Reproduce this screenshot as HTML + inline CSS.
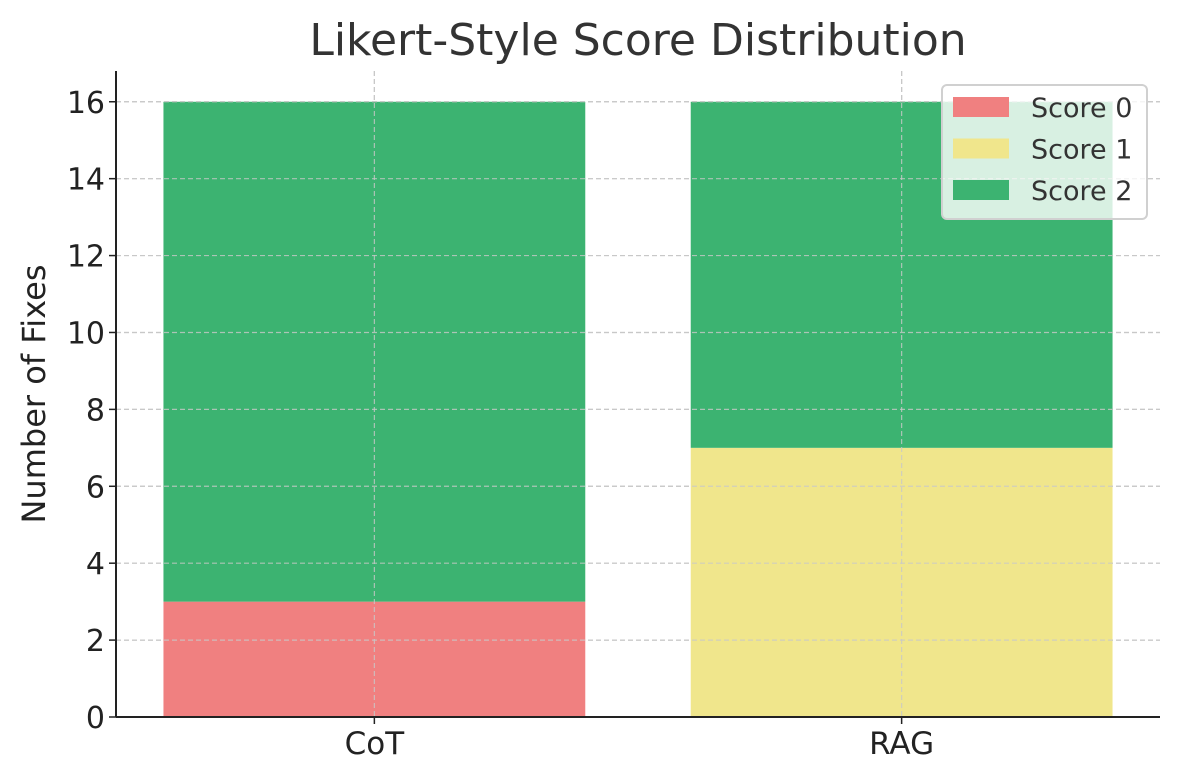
<!DOCTYPE html>
<html><head><meta charset="utf-8"><style>
body{margin:0;background:#fff}
svg{display:block;font-family:"DejaVu Sans","Liberation Sans",sans-serif}
</style></head><body>
<svg id="chart" width="1180" height="780" viewBox="0 0 1180 780">
<text x="638" y="55" font-size="44" fill="#333" text-anchor="middle">Likert-Style Score Distribution</text>
<text transform="translate(45,394) rotate(-90)" font-size="32" fill="#222" text-anchor="middle">Number of Fixes</text>
<g id="grid"></g><g id="bars"></g><g id="axes"></g><g id="legend"></g>
</svg>
<script>
const categories=["CoT","RAG"];
const seriesNames=["Score 0","Score 1","Score 2"];
const score0=[3,0];
const score1=[0,7];
const score2=[13,9];
const yTicks=[0,2,4,6,8,10,12,14,16];
const colors=["#f08080","#f0e68c","#3cb371"];
const NS="http://www.w3.org/2000/svg";
const L=116,R=1160,T=71,B=717;
const yMax=16.8,xMin=-0.49,xMax=1.49;
const ys=v=>B-(v/yMax)*(B-T);
const xs=v=>L+(v-xMin)/(xMax-xMin)*(R-L);
function mk(tag,attrs,parent){const e=document.createElementNS(NS,tag);for(const k in attrs)e.setAttribute(k,attrs[k]);parent.appendChild(e);return e;}
const grid=document.getElementById('grid'),bars=document.getElementById('bars'),axes=document.getElementById('axes'),legend=document.getElementById('legend');
yTicks.forEach(t=>{
 const g=mk('line',{x1:L,x2:R,y1:ys(t),y2:ys(t),stroke:'#c8c8c8','stroke-width':1.2,'stroke-dasharray':'5,3'},grid);
 
 
 const tk=mk('line',{x1:L-7,x2:L,y1:ys(t),y2:ys(t),stroke:'#222','stroke-width':1.5},axes);
 
 
 const tx=mk('text',{x:L-11,y:ys(t)+11,'font-size':30,fill:'#222','text-anchor':'end'},axes);
 tx.textContent=t;
 
 
});
categories.forEach((c,i)=>{
 const g=mk('line',{x1:xs(i),x2:xs(i),y1:T,y2:B,stroke:'#c8c8c8','stroke-width':1.2,'stroke-dasharray':'5,3'},grid);
 
 
});
const series=[score0,score1,score2];
categories.forEach((c,i)=>{
 let base=0;
 series.forEach((s,k)=>{
  const v=s[i];
  if(v>0){
   const r=mk('rect',{x:xs(i-0.4),width:xs(i+0.4)-xs(i-0.4),y:ys(base+v),height:ys(base)-ys(base+v),fill:colors[k]},bars);
   
   
  }
  base+=v;
 });
 const tk=mk('line',{x1:xs(i),x2:xs(i),y1:B,y2:B+7,stroke:'#222','stroke-width':1.5},axes);
 
 
 const tx=mk('text',{x:xs(i),y:B+37,'font-size':31,fill:'#222','text-anchor':'middle'},axes);
 tx.textContent=c;
 
 
});
categories.forEach((c,i)=>{
 const g=mk('line',{x1:xs(i),x2:xs(i),y1:T,y2:B,stroke:'#c8c8c8','stroke-width':1.2,'stroke-dasharray':'5,3','stroke-opacity':0.8},bars);
 
 
});
yTicks.forEach(t=>{
 const g=mk('line',{x1:L,x2:R,y1:ys(t),y2:ys(t),stroke:'#c8c8c8','stroke-width':1.2,'stroke-dasharray':'5,3','stroke-opacity':0.8},bars);
 
 
});
const la=mk('line',{x1:L,x2:L,y1:T,y2:B,stroke:'#222','stroke-width':2},axes);


const ba=mk('line',{x1:L,x2:R,y1:B,y2:B,stroke:'#222','stroke-width':2},axes);


const box=mk('rect',{x:942,y:85,width:205,height:134,rx:5,fill:'#fff','fill-opacity':0.8,stroke:'#d0d0d0','stroke-width':2},legend);


seriesNames.forEach((n,k)=>{
 const cy=107+k*41.5;
 const p=mk('rect',{x:953,y:cy-10,width:56,height:20,fill:colors[k]},legend);
 
 
 const t=mk('text',{x:1031,y:cy+10,'font-size':27,fill:'#333'},legend);
 t.textContent=n;
 
 
});
</script>
</body></html>
